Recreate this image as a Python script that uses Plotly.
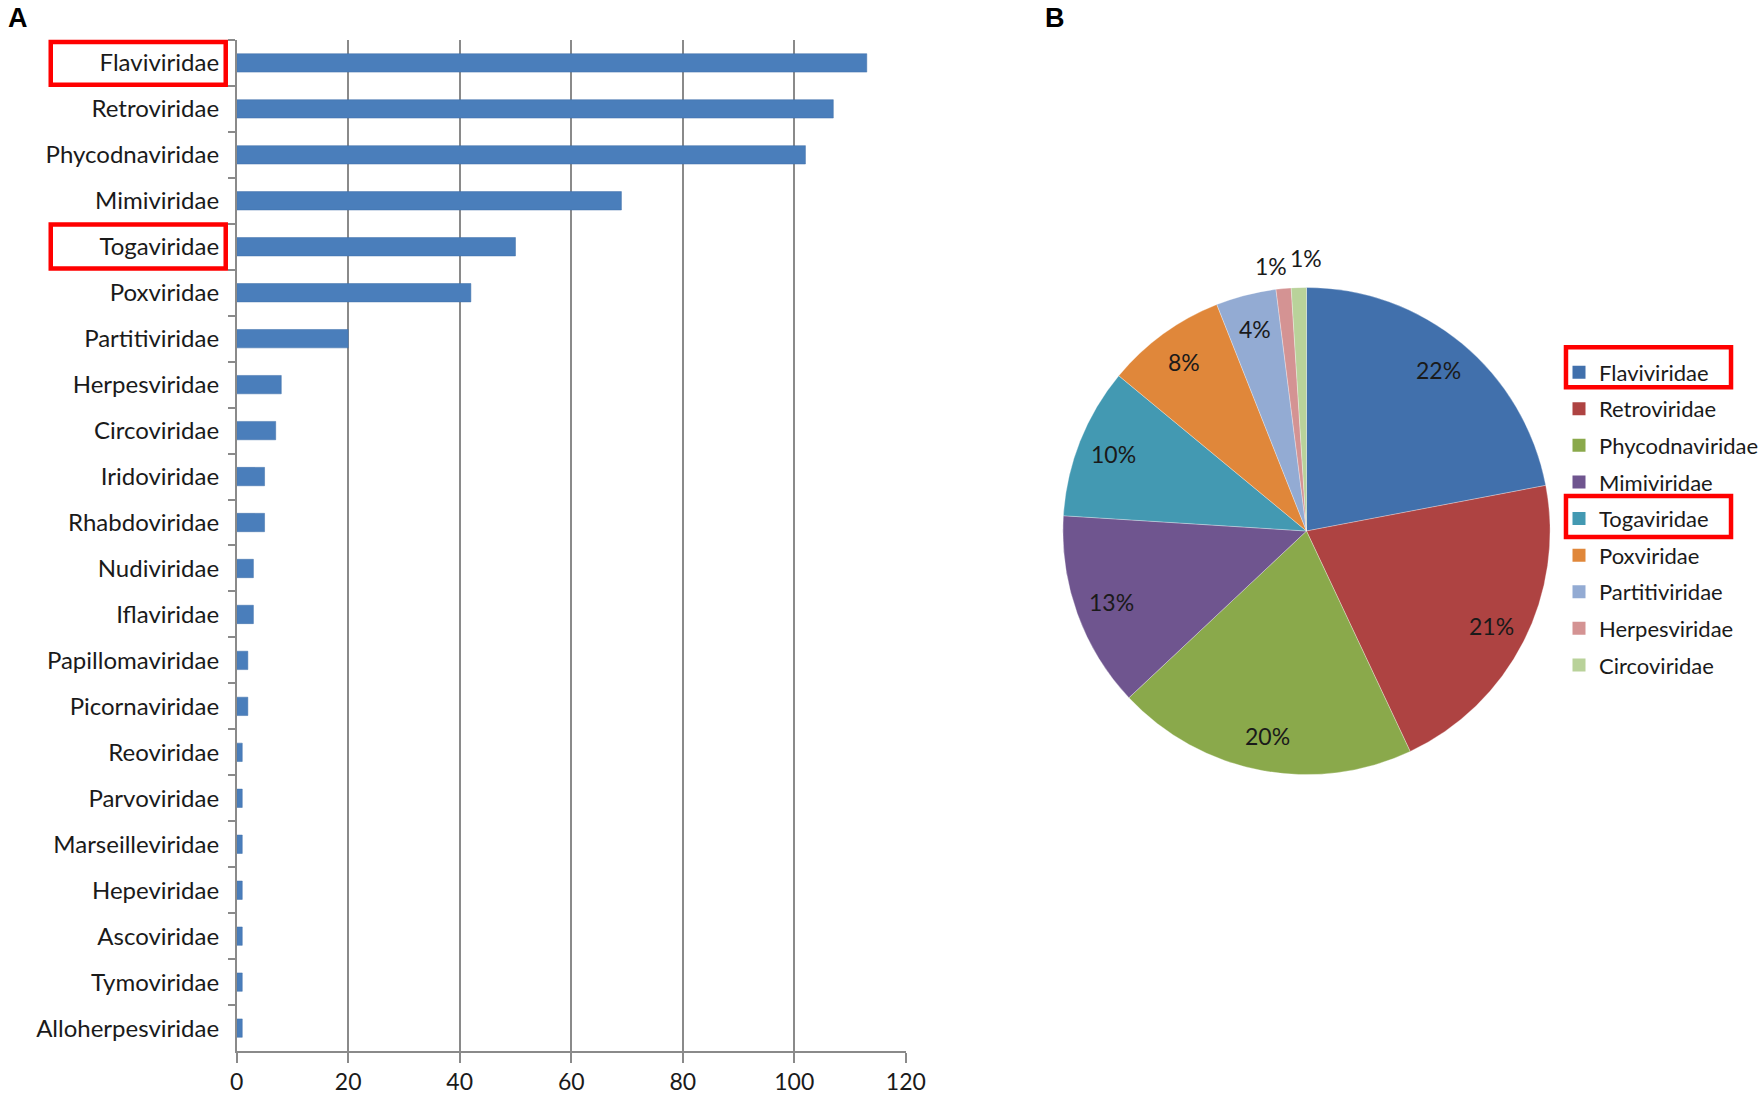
import math
import plotly.graph_objects as go

# panel A - number of hits per virus family
families = ["Flaviviridae", "Retroviridae", "Phycodnaviridae", "Mimiviridae", "Togaviridae",
            "Poxviridae", "Partitiviridae", "Herpesviridae", "Circoviridae", "Iridoviridae",
            "Rhabdoviridae", "Nudiviridae", "Iflaviridae", "Papillomaviridae", "Picornaviridae",
            "Reoviridae", "Parvoviridae", "Marseilleviridae", "Hepeviridae", "Ascoviridae",
            "Tymoviridae", "Alloherpesviridae"]
counts = [113, 107, 102, 69, 50, 42, 20, 8, 7, 5, 5, 3, 3, 2, 2, 1, 1, 1, 1, 1, 1, 1]
x_ticks = [0, 20, 40, 60, 80, 100, 120]

# panel B - share of the top nine families (percent)
pie_families = ["Flaviviridae", "Retroviridae", "Phycodnaviridae", "Mimiviridae", "Togaviridae",
                "Poxviridae", "Partitiviridae", "Herpesviridae", "Circoviridae"]
pie_share = [22, 21, 20, 13, 10, 8, 4, 1, 1]
pie_colors = ["#4170AC", "#AE4342", "#8AA94B", "#6F558F", "#4399B2",
              "#E0873A", "#93ABD3", "#D49393", "#B9D29A"]

W, H = 1764, 1095
FONT = "Lato"
TXT = "#1a1a1a"

# the page draws the paper a bit narrower than W, starting a few px in
OX, WR = 4, 1738

def px(x):
    return (x - OX) / WR

def py(y):
    return 1 - y / H

fig = go.Figure()

fig.add_trace(go.Bar(
    x=counts, y=families, orientation="h", width=0.4,
    marker=dict(color="#4A7EBB", line=dict(color="#3F6FA8", width=0.5)),
    showlegend=False, hoverinfo="x+y"))

# pie geometry (px): centre and half size of the domain
cx, cy, R = 1311, 532, 245
fig.add_trace(go.Pie(
    labels=pie_families, values=pie_share, sort=False, direction="clockwise", rotation=0,
    marker=dict(colors=pie_colors, line=dict(color="rgba(255,255,255,0.5)", width=0.6)),
    textinfo="none", showlegend=False,
    domain=dict(x=[px(cx - R), px(cx + R)], y=[py(cy + R), py(cy - R)])))

# legend entries (separate so the row gap can be set)
for fam, col in zip(pie_families, pie_colors):
    fig.add_trace(go.Scatter(
        x=[None], y=[None], mode="markers", name=fam, legendgroup=fam,
        marker=dict(symbol="square", size=13, color=col)))

# percent labels, Excel style: along the mid angle near the rim
Rd = R * 0.98
total = sum(pie_share)
cum = 0
xshift = [0, 0, 0, 0, 0, 0, 0, -11, 8]
yshift = [0, 0, 0, 0, 0, 0, 0, 0, 7]
for i, s in enumerate(pie_share):
    a = (cum + s / 2) / total * 2 * math.pi
    cum += s
    r = Rd * 0.87 if s > 2 else Rd * 1.11
    fig.add_annotation(
        text="%d%%" % round(s / total * 100), xref="paper", yref="paper",
        x=px(cx + r * math.sin(a)), y=py(cy - r * math.cos(a)),
        xanchor="center", yanchor="middle", xshift=xshift[i], yshift=yshift[i],
        showarrow=False, font=dict(family=FONT, size=23, color=TXT))

fig.update_xaxes(
    domain=[px(235), px(908)], range=[0, 120], tickvals=x_ticks,
    showgrid=True, gridcolor="#8a8a8a", gridwidth=1.5,
    showline=True, linecolor="#8a8a8a", linewidth=1.5,
    ticks="outside", ticklen=10, tickcolor="#8a8a8a", tickwidth=1.5,
    zeroline=False, tickfont=dict(family=FONT, size=23, color=TXT))

fig.update_yaxes(
    domain=[py(1053), py(40)], type="category",
    categoryorder="array", categoryarray=families, autorange="reversed",
    showline=True, linecolor="#8a8a8a", linewidth=1.5,
    ticks="outside", tickson="boundaries", ticklen=7, tickcolor="#8a8a8a", tickwidth=1.5,
    showgrid=False, ticklabelstandoff=11,
    tickfont=dict(family=FONT, size=24, color=TXT))

# red highlight boxes
boxes = [(48, 42, 224, 85), (48, 225, 224, 269), (1572, 348, 1738, 388), (1572, 497, 1738, 538)]
for x0, y0, x1, y1 in boxes:
    fig.add_shape(type="rect", xref="paper", yref="paper",
                  x0=px(x0), x1=px(x1), y0=py(y1), y1=py(y0),
                  line=dict(color="#FF0000", width=4.5), fillcolor="rgba(0,0,0,0)")

for lab, x in [("A", 4), ("B", 1047)]:
    fig.add_annotation(text="<b>%s</b>" % lab, xref="paper", yref="paper",
                       x=px(x), y=py(2), xanchor="left", yanchor="top", showarrow=False,
                       borderpad=0, font=dict(family="Liberation Sans", size=27, color="black"))

fig.update_layout(
    width=W, height=H, margin=dict(l=0, r=0, t=0, b=0),
    plot_bgcolor="white", paper_bgcolor="white",
    legend=dict(x=px(1565), y=py(352), xanchor="left", yanchor="top",
                font=dict(family=FONT, size=22, color=TXT), tracegroupgap=5,
                bgcolor="rgba(0,0,0,0)", itemwidth=30))

fig.write_html("out.html", config={"displayModeBar": False},
               post_script="document.body.style.margin='0';document.body.style.overflow='hidden';")
